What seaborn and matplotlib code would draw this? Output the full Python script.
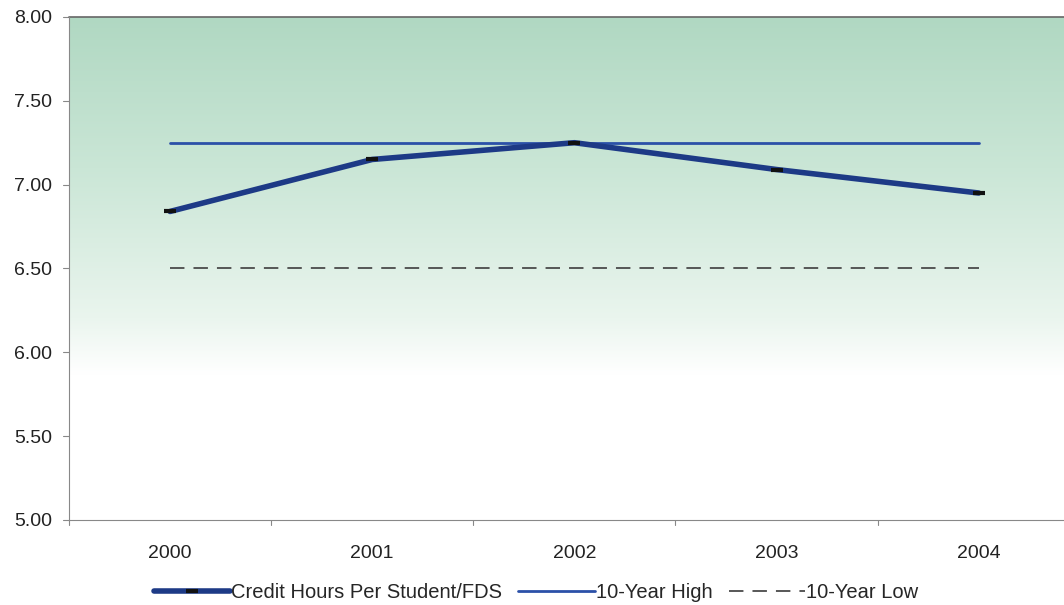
import numpy as np
import pandas as pd
import matplotlib
matplotlib.use("Agg")
import matplotlib.pyplot as plt
import seaborn as sns
from matplotlib.colors import LinearSegmentedColormap

# ── data ──────────────────────────────────────────────────
years = ["2000", "2001", "2002", "2003", "2004"]
credit_hours = [6.84, 7.15, 7.25, 7.09, 6.95]
high_10yr = [7.25, 7.25, 7.25, 7.25, 7.25]
low_10yr = [6.50, 6.50, 6.50, 6.50, 6.50]

df = pd.DataFrame({"year": years, "credit": credit_hours,
                   "high": high_10yr, "low": low_10yr})

sns.set_theme(style="white")
plt.rcParams["font.family"] = ["Liberation Sans", "DejaVu Sans"]

fig = plt.figure(figsize=(10.64, 6.05), dpi=100)
ax = fig.add_axes([0.0648, 0.1405, 1.0149 - 0.0648, 0.972 - 0.1405])

# gradient background: green at top fading to white near 6.0
grad = np.linspace(0, 1, 256).reshape(-1, 1)
cmap = LinearSegmentedColormap.from_list(
    "bg", [(0.0, "#ffffff"), (0.29, "#ffffff"), (0.40, "#eaf5ee"),
           (0.70, "#cae6d6"), (1.0, "#b0d8c2")])
ax.imshow(grad, aspect="auto", cmap=cmap, origin="lower",
          extent=(-0.5, 4.5, 5.0, 8.0), zorder=0)

x = np.arange(len(years))
sns.lineplot(x=x, y=df["high"], ax=ax, color="#2b50a8", linewidth=2,
             label="10-Year High", zorder=3)
sns.lineplot(x=x, y=df["low"], ax=ax, color="#4a4a4a", linewidth=1.3,
             linestyle=(0, (8, 5)), label="10-Year Low", zorder=3)
sns.lineplot(x=x, y=df["credit"], ax=ax, color="#1d3a86", linewidth=4,
             marker="_", markersize=9, markeredgewidth=3,
             markeredgecolor="#111111", label="Credit Hours Per Student/FDS",
             zorder=4)

ax.set_xlim(-0.5, 4.5)
ax.set_ylim(5.0, 8.0)
ax.set_xticks(x)
ax.set_xticklabels(years)
ax.set_yticks(np.arange(5.0, 8.01, 0.5))
ax.set_yticklabels([f"{v:.2f}" for v in np.arange(5.0, 8.01, 0.5)])
ax.tick_params(axis="y", labelsize=14, colors="#222222", length=0, pad=12)
ax.tick_params(axis="x", labelsize=14, colors="#222222", length=0, pad=18)
ax.set_xlabel("")
ax.set_ylabel("")

# category tick marks between years
for b in np.arange(-0.5, 4.6, 1.0):
    ax.plot([b, b], [5.0, 4.97], color="#888888", lw=0.8, clip_on=False)
for v in np.arange(5.0, 8.01, 0.5):
    ax.plot([-0.5, -0.53], [v, v], color="#888888", lw=0.8, clip_on=False)

for side in ["top", "right"]:
    ax.spines[side].set_visible(False)
ax.spines["left"].set_color("#888888")
ax.spines["bottom"].set_color("#888888")
ax.spines["left"].set_linewidth(0.8)
ax.spines["bottom"].set_linewidth(0.8)
ax.plot([-0.5, 4.5], [8.0, 8.0], color="#666666", lw=1.2, clip_on=False)

h, l = ax.get_legend_handles_labels()
order = [2, 0, 1]
ax.legend([h[i] for i in order], [l[i] for i in order], loc="center",
          bbox_to_anchor=(536 / 1064, 1 - 593 / 605), bbox_transform=fig.transFigure,
          ncol=3, frameon=False, fontsize=14.5, handlelength=3.8,
          handletextpad=0.05, columnspacing=0.8)

fig.savefig("out.png", dpi=100, facecolor="white")
